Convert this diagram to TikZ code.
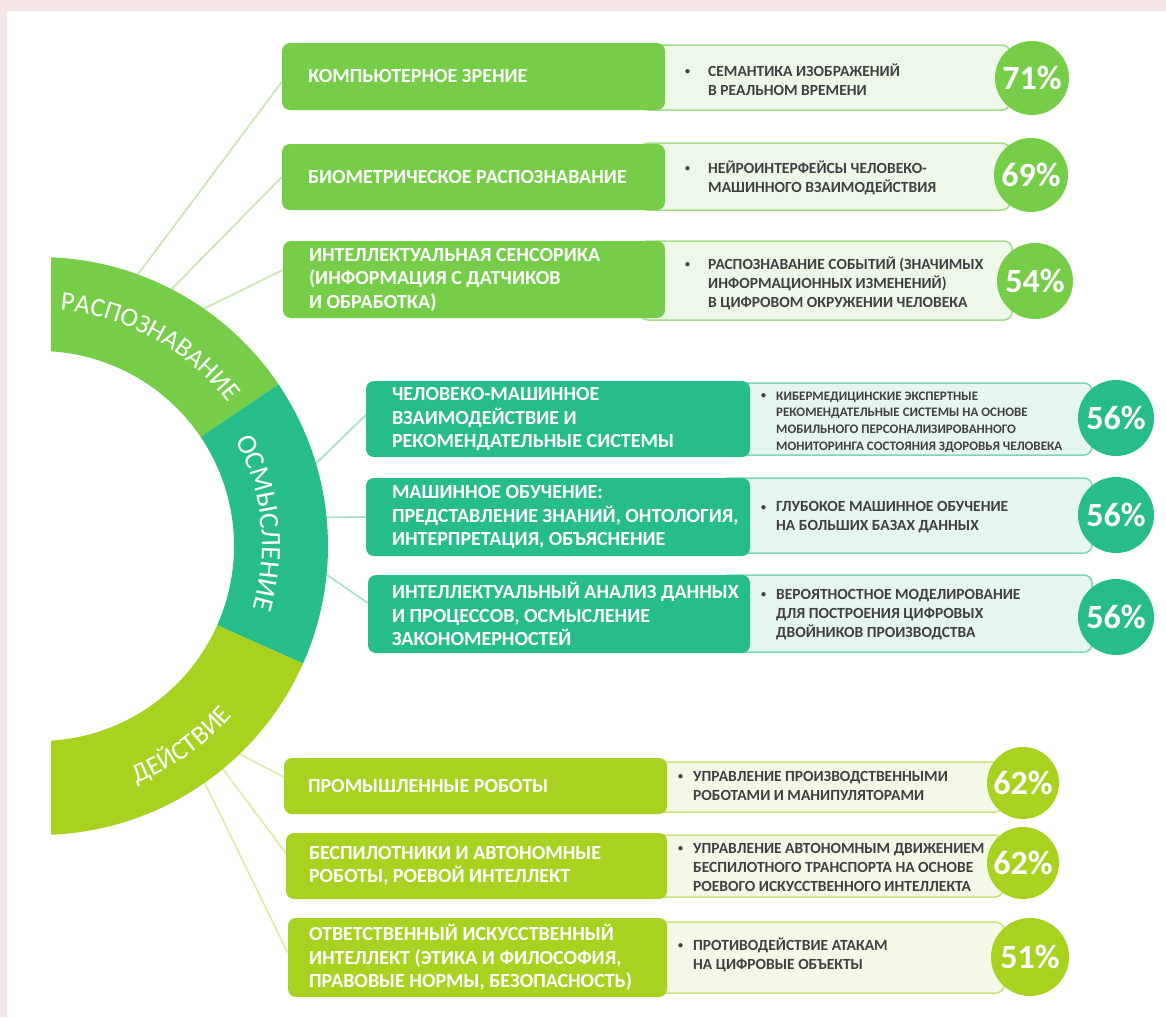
\documentclass[tikz,border=0pt]{standalone}
\usepackage{fontspec}
\setmainfont{Carlito}
\usetikzlibrary{decorations.text,backgrounds}
\definecolor{gA}{HTML}{76CE48}
\definecolor{gB}{HTML}{26BD8B}
\definecolor{gC}{HTML}{A7D21F}
\definecolor{lA}{HTML}{EEF8E9}
\definecolor{lB}{HTML}{E5F6EF}
\definecolor{lC}{HTML}{F4F9E7}
\definecolor{bA}{HTML}{A5DC88}
\definecolor{bB}{HTML}{7FD5B8}
\definecolor{bC}{HTML}{C9E37E}
\definecolor{cA}{HTML}{CBE8B8}
\definecolor{cB}{HTML}{ABE3CF}
\definecolor{cC}{HTML}{DFEDB0}
\definecolor{pinkbg}{HTML}{F5E6E7}
\definecolor{txtgray}{HTML}{404040}
\newcommand\smallbul{\raisebox{1.6pt}{\fontsize{10}{10}\selectfont •}}
\newcommand\bitem[2]{\makebox[#1][l]{\smallbul}\begin{tabular}[t]{@{}l@{}}#2\end{tabular}}
\newcommand\ringfont{\fontsize{26.5}{26.5}\selectfont}
\newcommand\ringfontB{\fontsize{28}{28}\selectfont}
\begin{document}
\begin{tikzpicture}[x=1pt,y=1pt,
  dbox/.style={rectangle, rounded corners=8pt, inner sep=0pt},
  dtext/.style={anchor=west, text=white, align=left, inner sep=0pt, font=\fontsize{20}{23.5}\selectfont\bfseries},
  lbox/.style={rectangle, rounded corners=8pt, line width=1.5pt, inner sep=0pt},
  rtext/.style={anchor=west, text=txtgray, inner sep=0pt, font=\fontsize{15.5}{19}\selectfont\bfseries},
  pct/.style={circle, inner sep=0pt, text=white, font=\fontsize{34}{34}\selectfont\bfseries},
  conn/.style={line width=1.8pt}]
\useasboundingbox (0,0) rectangle (1166,-1017);
\coordinate (C) at (39,-546);

% ---------- ring ----------
\begin{scope}
\clip (51,0) rectangle (400,-1017);
\fill[gA] ([shift={(95:289)}]C) arc[start angle=95,end angle=34,radius=289] -- ([shift={(34:195)}]C) arc[start angle=34,end angle=95,radius=195] -- cycle;
\fill[gB] ([shift={(34:289)}]C) arc[start angle=34,end angle=-24,radius=289] -- ([shift={(-24:195)}]C) arc[start angle=-24,end angle=34,radius=195] -- cycle;
\fill[gC] ([shift={(-24:289)}]C) arc[start angle=-24,end angle=-95,radius=289] -- ([shift={(-95:195)}]C) arc[start angle=-95,end angle=-24,radius=195] -- cycle;
\end{scope}
\path[decorate, decoration={text along path, text={|\ringfont|РАСПОЗНАВАНИЕ}, text align=center, text color=white}]
  ([shift={(106:237)}]C) arc[start angle=106,end angle=16,radius=237];
\path[decorate, decoration={text along path, text={|\ringfontB|ОСМЫСЛЕНИЕ}, text align=center, text color=white}]
  ([shift={(51:223)}]C) arc[start angle=51,end angle=-39,radius=223];
\path[decorate, decoration={text along path, text={|\ringfont|ДЕЙСТВИЕ}, text align=center, text color=white}]
  ([shift={(-99.5:257)}]C) arc[start angle=-99.5,end angle=-9.5,radius=257];

% ---------- light boxes ----------
\node[lbox, draw=bA, fill=lA, minimum width=370pt, minimum height=65pt] (l1) at (825,-77.5) {};
\node[lbox, draw=bA, fill=lA, minimum width=370pt, minimum height=67pt] (l2) at (825,-176.5) {};
\node[lbox, draw=bA, fill=lA, minimum width=372pt, minimum height=79pt] (l3) at (826,-280.5) {};
\node[lbox, draw=bB, fill=lB, minimum width=372pt, minimum height=72pt] (l4) at (906,-419) {};
\node[lbox, draw=bB, fill=lB, minimum width=372pt, minimum height=75pt] (l5) at (906,-515.5) {};
\node[lbox, draw=bB, fill=lB, minimum width=372pt, minimum height=77pt] (l6) at (906,-613.5) {};
\node[lbox, draw=bC, fill=lC, minimum width=363pt, minimum height=50pt] (l7) at (821.5,-787) {};
\node[lbox, draw=bC, fill=lC, minimum width=363pt, minimum height=62pt] (l8) at (821.5,-866) {};
\node[lbox, draw=bC, fill=lC, minimum width=364pt, minimum height=71pt] (l9) at (822,-957.5) {};

% ---------- dark boxes ----------
\node[dbox, fill=gA, minimum width=383pt, minimum height=67pt] (b1) at (473.5,-76.5) {};
\node[dbox, fill=gA, minimum width=383pt, minimum height=66pt] (b2) at (473.5,-177) {};
\node[dbox, fill=gA, minimum width=382pt, minimum height=77pt] (b3) at (474,-279.5) {};
\node[dbox, fill=gB, minimum width=384pt, minimum height=76pt] (b4) at (558,-419) {};
\node[dbox, fill=gB, minimum width=384pt, minimum height=78pt] (b5) at (558,-517) {};
\node[dbox, fill=gB, minimum width=382pt, minimum height=78pt] (b6) at (559,-614) {};
\node[dbox, fill=gC, minimum width=383pt, minimum height=56pt] (b7) at (475.5,-786) {};
\node[dbox, fill=gC, minimum width=381pt, minimum height=66pt] (b8) at (476.5,-866) {};
\node[dbox, fill=gC, minimum width=379pt, minimum height=79pt] (b9) at (477.5,-957.5) {};

\node[dtext] (d1) at ([xshift=26pt]b1.west) {КОМПЬЮТЕРНОЕ ЗРЕНИЕ};
\node[dtext] (d2) at ([xshift=26pt]b2.west) {БИОМЕТРИЧЕСКОЕ РАСПОЗНАВАНИЕ};
\node[dtext] (d3) at ([xshift=26pt]b3.west) {ИНТЕЛЛЕКТУАЛЬНАЯ СЕНСОРИКА\\(ИНФОРМАЦИЯ С ДАТЧИКОВ\\И ОБРАБОТКА)};
\node[dtext] (d4) at ([xshift=26pt]b4.west) {ЧЕЛОВЕКО-МАШИННОЕ\\ВЗАИМОДЕЙСТВИЕ И\\РЕКОМЕНДАТЕЛЬНЫЕ СИСТЕМЫ};
\node[dtext] (d5) at ([xshift=26pt]b5.west) {МАШИННОЕ ОБУЧЕНИЕ:\\ПРЕДСТАВЛЕНИЕ ЗНАНИЙ, ОНТОЛОГИЯ,\\ИНТЕРПРЕТАЦИЯ, ОБЪЯСНЕНИЕ};
\node[dtext] (d6) at ([xshift=24pt]b6.west) {ИНТЕЛЛЕКТУАЛЬНЫЙ АНАЛИЗ ДАННЫХ\\И ПРОЦЕССОВ, ОСМЫСЛЕНИЕ\\ЗАКОНОМЕРНОСТЕЙ};
\node[dtext] (d7) at ([xshift=24pt]b7.west) {ПРОМЫШЛЕННЫЕ РОБОТЫ};
\node[dtext] (d8) at ([xshift=23pt]b8.west) {БЕСПИЛОТНИКИ И АВТОНОМНЫЕ\\РОБОТЫ, РОЕВОЙ ИНТЕЛЛЕКТ};
\node[dtext] (d9) at ([xshift=21pt]b9.west) {ОТВЕТСТВЕННЫЙ ИСКУССТВЕННЫЙ\\ИНТЕЛЛЕКТ (ЭТИКА И ФИЛОСОФИЯ,\\ПРАВОВЫЕ НОРМЫ, БЕЗОПАСНОСТЬ)};

% ---------- bullet texts ----------
\node[rtext] (t1) at (685,-81.7) {\bitem{23pt}{СЕМАНТИКА ИЗОБРАЖЕНИЙ\\В РЕАЛЬНОМ ВРЕМЕНИ}};
\node[rtext] (t2) at (685,-179) {\bitem{23pt}{НЕЙРОИНТЕРФЕЙСЫ ЧЕЛОВЕКО-\\МАШИННОГО ВЗАИМОДЕЙСТВИЯ}};
\node[rtext] (t3) at (685,-284.5) {\bitem{23pt}{РАСПОЗНАВАНИЕ СОБЫТИЙ (ЗНАЧИМЫХ\\ИНФОРМАЦИОННЫХ ИЗМЕНЕНИЙ)\\В ЦИФРОВОМ ОКРУЖЕНИИ ЧЕЛОВЕКА}};
\node[rtext, font=\fontsize{13}{16.7}\selectfont\bfseries] (t4) at (761,-422) {\bitem{15pt}{КИБЕРМЕДИЦИНСКИЕ ЭКСПЕРТНЫЕ\\РЕКОМЕНДАТЕЛЬНЫЕ СИСТЕМЫ НА ОСНОВЕ\\МОБИЛЬНОГО ПЕРСОНАЛИЗИРОВАННОГО\\МОНИТОРИНГА СОСТОЯНИЯ ЗДОРОВЬЯ ЧЕЛОВЕКА}};
\node[rtext] (t5) at (761,-517.5) {\bitem{15pt}{ГЛУБОКОЕ МАШИННОЕ ОБУЧЕНИЕ\\НА БОЛЬШИХ БАЗАХ ДАННЫХ}};
\node[rtext] (t6) at (761,-614.5) {\bitem{15pt}{ВЕРОЯТНОСТНОЕ МОДЕЛИРОВАНИЕ\\ДЛЯ ПОСТРОЕНИЯ ЦИФРОВЫХ\\ДВОЙНИКОВ ПРОИЗВОДСТВА}};
\node[rtext] (t7) at (678,-787) {\bitem{15pt}{УПРАВЛЕНИЕ ПРОИЗВОДСТВЕННЫМИ\\РОБОТАМИ И МАНИПУЛЯТОРАМИ}};
\node[rtext] (t8) at (678,-868.5) {\bitem{15pt}{УПРАВЛЕНИЕ АВТОНОМНЫМ ДВИЖЕНИЕМ\\БЕСПИЛОТНОГО ТРАНСПОРТА НА ОСНОВЕ\\РОЕВОГО ИСКУССТВЕННОГО ИНТЕЛЛЕКТА}};
\node[rtext] (t9) at (678,-956) {\bitem{15pt}{ПРОТИВОДЕЙСТВИЕ АТАКАМ\\НА ЦИФРОВЫЕ ОБЪЕКТЫ}};

% ---------- percentage circles ----------
\node[pct, fill=gA, minimum size=74pt] (p1) at (1032,-78) {71\%};
\node[pct, fill=gA, minimum size=74pt] (p2) at (1031,-175) {69\%};
\node[pct, fill=gA, minimum size=76pt] (p3) at (1035,-281) {54\%};
\node[pct, fill=gB, minimum size=76pt] (p4) at (1116,-418) {56\%};
\node[pct, fill=gB, minimum size=76pt] (p5) at (1116,-515) {56\%};
\node[pct, fill=gB, minimum size=76pt] (p6) at (1116,-617) {56\%};
\node[pct, fill=gC, minimum size=72pt] (p7) at (1023,-783) {62\%};
\node[pct, fill=gC, minimum size=72pt] (p8) at (1023,-863) {62\%};
\node[pct, fill=gC, minimum size=78pt] (p9) at (1030,-957) {51\%};

% ---------- background and connectors ----------
\begin{scope}[on background layer]
\fill[pinkbg] (0,0) rectangle (1166,-1017);
\fill[white] (7,-11) rectangle (1166,-1017);
\coordinate (r1) at ([shift={(70:289)}]C);
\coordinate (r2) at ([shift={(62.7:289)}]C);
\coordinate (r3) at ([shift={(55.2:289)}]C);
\coordinate (r4) at ([shift={(16.6:289)}]C);
\coordinate (r5) at ([shift={(5.7:289)}]C);
\coordinate (r6) at ([shift={(-5.7:289)}]C);
\coordinate (r7) at ([shift={(-46:289)}]C);
\coordinate (r8) at ([shift={(-50.5:289)}]C);
\coordinate (r9) at ([shift={(-55:289)}]C);
\draw[conn, cA] (r1) -- ([yshift=-5.5pt]b1.west);
\draw[conn, cA] (r2) -- (b2.west);
\draw[conn, cA] (r3) -- ([yshift=9.5pt]b3.west);
\draw[conn, cB] (r4) -- ([yshift=4pt]b4.west);
\draw[conn, cB] (r5) -- (b5.west);
\draw[conn, cB] (r6) -- ([yshift=11pt]b6.west);
\draw[conn, cC] (r7) -- ([yshift=9pt]b7.west);
\draw[conn, cC] (r8) -- ([yshift=13pt]b8.west);
\draw[conn, cC] (r9) -- ([yshift=4.5pt]b9.west);
\end{scope}
\end{tikzpicture}
\end{document}
